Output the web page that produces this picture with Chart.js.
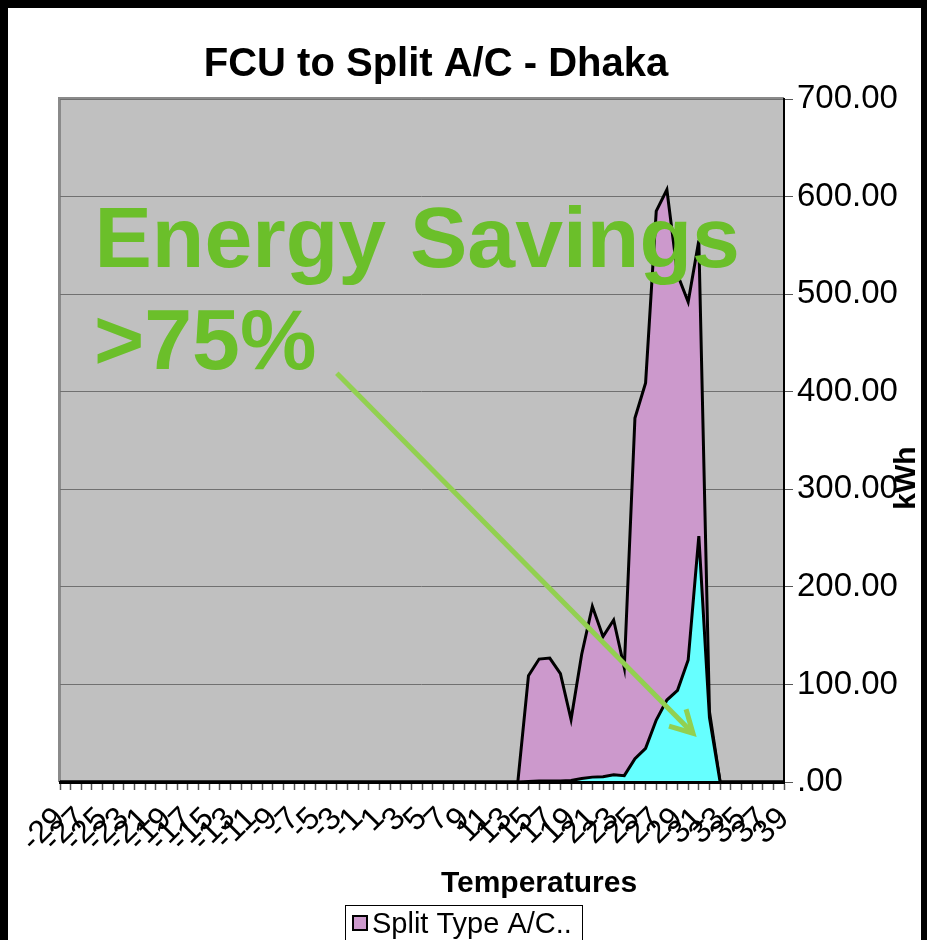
<!DOCTYPE html>
<html>
<head>
<meta charset="utf-8">
<title>FCU to Split A/C - Dhaka</title>
<script src="https://cdn.jsdelivr.net/npm/chart.js@4"></script>
<style>
  html, body { margin: 0; padding: 0; background: #000; overflow: hidden; }
  #wrap { position: absolute; left: 8px; top: 8px; width: 913px; height: 932px; background: #fff; }
</style>
</head>
<body>
<div id="wrap"><canvas id="chart"></canvas></div>
<script>
// categories: outdoor temperature bins
const temperatures = [
  -29, -28, -27, -26, -25, -24, -23, -22, -21, -20,
  -19, -18, -17, -16, -15, -14, -13, -12, -11, -10,
  -9, -8, -7, -6, -5, -4, -3, -2, -1, 0,
  1, 2, 3, 4, 5, 6, 7, 8, 9, 10,
  11, 12, 13, 14, 15, 16, 17, 18, 19, 20,
  21, 22, 23, 24, 25, 26, 27, 28, 29, 30,
  31, 32, 33, 34, 35, 36, 37, 38, 39,
];

// kWh per temperature bin
const splitTypeKwh = [
  0, 0, 0, 0, 0, 0, 0, 0, 0, 0,
  0, 0, 0, 0, 0, 0, 0, 0, 0, 0,
  0, 0, 0, 0, 0, 0, 0, 0, 0, 0,
  0, 0, 0, 0, 0, 0, 0, 0, 0, 0,
  0, 0, 0, 0, 109, 126, 127, 111, 64, 131,
  180, 149, 166, 117, 373, 409, 585, 607, 520, 492,
  555, 72, 0, 0, 0, 0, 0, 0, 0,
];

const fcuKwh = [
  0, 0, 0, 0, 0, 0, 0, 0, 0, 0,
  0, 0, 0, 0, 0, 0, 0, 0, 0, 0,
  0, 0, 0, 0, 0, 0, 0, 0, 0, 0,
  0, 0, 0, 0, 0, 0, 0, 0, 0, 0,
  0, 0, 0, 0, 0.5, 1, 1, 1, 1.5, 3.5,
  5, 5.5, 7.5, 6.5, 24, 34.5, 63.5, 84, 94, 125,
  252, 66, 0, 0, 0, 0, 0, 0, 0,
];

const yTicks = [0, 100, 200, 300, 400, 500, 600, 700];

const FONT = "'Liberation Sans', Arial, sans-serif";
const SAVINGS_GREEN = '#6bbf2a';
const ARROW_GREEN = '#92d050';

// arrow anchors in data space: [category index, kWh]
const arrowFrom = [26.0, 419];
const arrowTo = [59.45, 50];

const plotBackground = {
  id: 'plotBackground',
  beforeDraw(chart) {
    const { ctx, chartArea: a } = chart;
    ctx.save();
    ctx.fillStyle = '#c0c0c0';
    ctx.fillRect(a.left, a.top, a.right - a.left, a.bottom - a.top);
    ctx.strokeStyle = '#8a8a8a';
    ctx.lineWidth = 3;
    ctx.beginPath();
    ctx.moveTo(a.left - 0.5, a.bottom);
    ctx.lineTo(a.left - 0.5, a.top - 0.5);
    ctx.lineTo(a.right, a.top - 0.5);
    ctx.stroke();
    ctx.restore();
  },
};

const overlay = {
  id: 'overlay',
  afterDraw(chart) {
    const { ctx, scales } = chart;
    ctx.save();

    // chart title
    ctx.fillStyle = '#000';
    ctx.textAlign = 'center';
    ctx.textBaseline = 'alphabetic';
    ctx.font = `bold 40px ${FONT}`;
    ctx.fillText('FCU to Split A/C - Dhaka', 428, 68);

    // x axis title
    ctx.font = `bold 30px ${FONT}`;
    ctx.fillText('Temperatures', 531, 884);

    // y axis title, reading upwards
    ctx.save();
    ctx.translate(907, 470);
    ctx.rotate(-Math.PI / 2);
    ctx.fillText('kWh', 0, 0);
    ctx.restore();

    // legend (only the first series is shown)
    const ds = chart.data.datasets[0];
    ctx.lineWidth = 1;
    ctx.strokeStyle = '#000';
    ctx.strokeRect(337.5, 897.5, 237, 60);
    ctx.fillStyle = ds.backgroundColor;
    ctx.fillRect(345, 908, 14, 14);
    ctx.lineWidth = 2;
    ctx.strokeRect(345, 908, 14, 14);
    ctx.fillStyle = '#000';
    ctx.textAlign = 'left';
    ctx.font = `29px ${FONT}`;
    ctx.fillText(ds.label, 364, 925);

    // annotation text
    ctx.fillStyle = SAVINGS_GREEN;
    ctx.font = `bold 86px ${FONT}`;
    ctx.fillText('Energy Savings', 86.5, 258.7);
    ctx.fillText('>75%', 86, 361);

    // annotation arrow
    const x0 = scales.x.getPixelForValue(arrowFrom[0]);
    const y0 = scales.y.getPixelForValue(arrowFrom[1]);
    const x1 = scales.x.getPixelForValue(arrowTo[0]);
    const y1 = scales.y.getPixelForValue(arrowTo[1]);
    const ang = Math.atan2(y1 - y0, x1 - x0);
    const head = 25;
    const spread = 0.5;
    ctx.strokeStyle = ARROW_GREEN;
    ctx.lineWidth = 5;
    ctx.lineCap = 'butt';
    ctx.lineJoin = 'miter';
    ctx.beginPath();
    ctx.moveTo(x0, y0);
    ctx.lineTo(x1, y1);
    ctx.stroke();
    ctx.beginPath();
    ctx.moveTo(x1 - head * Math.cos(ang - spread), y1 - head * Math.sin(ang - spread));
    ctx.lineTo(x1, y1);
    ctx.lineTo(x1 - head * Math.cos(ang + spread), y1 - head * Math.sin(ang + spread));
    ctx.stroke();

    ctx.restore();
  },
};

const canvas = document.getElementById('chart');

new Chart(canvas.getContext('2d'), {
  type: 'line',
  data: {
    labels: temperatures,
    datasets: [
      {
        label: 'Split Type A/C..',
        data: splitTypeKwh,
        backgroundColor: '#cc99cc',
        borderColor: '#000',
        borderWidth: 3,
        fill: 'origin',
        pointRadius: 0,
        tension: 0,
        order: 2,
      },
      {
        label: 'FCU',
        data: fcuKwh,
        backgroundColor: '#66ffff',
        borderColor: '#000',
        borderWidth: 3,
        fill: 'origin',
        pointRadius: 0,
        tension: 0,
        order: 1,
      },
    ],
  },
  options: {
    responsive: true,
    maintainAspectRatio: false,
    animation: false,
    layout: { padding: { left: 52, top: 91, right: 0, bottom: 0 } },
    plugins: {
      legend: { display: false },
      title: { display: false },
      tooltip: { enabled: false },
    },
    scales: {
      x: {
        type: 'category',
        offset: false,
        grid: {
          display: true,
          drawOnChartArea: false,
          drawTicks: true,
          tickLength: 8,
          tickColor: '#555',
          tickWidth: 1.5,
        },
        border: { display: true, color: '#000', width: 3, z: 1 },
        ticks: {
          autoSkip: false,
          minRotation: 45,
          maxRotation: 45,
          padding: 10,
          color: '#000',
          font: { family: FONT, size: 32 },
          callback: (value, index) => (index % 2 === 0 ? String(temperatures[index]) : ''),
        },
        afterFit(scale) {
          scale.height = 158;
        },
      },
      y: {
        position: 'right',
        min: 0,
        max: 700,
        afterBuildTicks(scale) {
          scale.ticks = yTicks.map((value) => ({ value }));
        },
        ticks: {
          padding: 4,
          color: '#000',
          font: { family: FONT, size: 33 },
          callback: (value) => (value === 0 ? '.00' : value.toFixed(2)),
        },
        grid: { color: '#707070', lineWidth: 1, tickLength: 9, tickColor: '#555' },
        border: { color: '#000', width: 2, z: 1 },
        afterFit(scale) {
          scale.width = 137;
        },
      },
    },
  },
  plugins: [plotBackground, overlay],
});
</script>
</body>
</html>
